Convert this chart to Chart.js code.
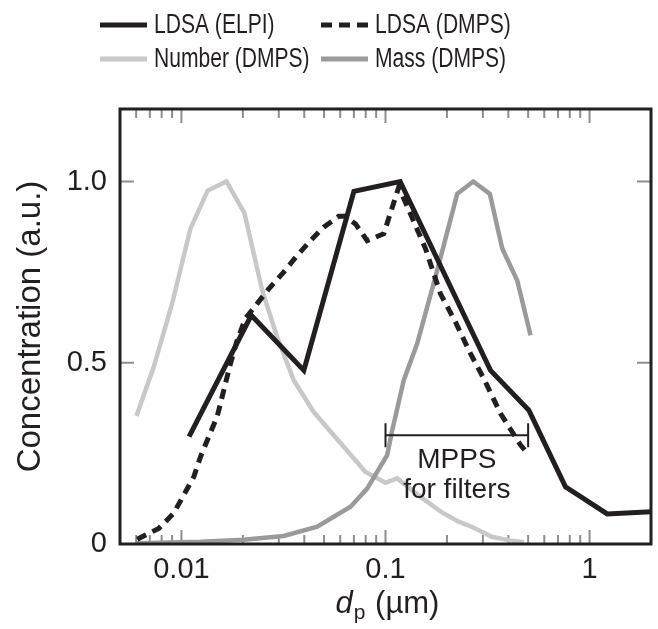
<!DOCTYPE html>
<html>
<head>
<meta charset="utf-8">
<script src="https://cdn.jsdelivr.net/npm/chart.js@4.4.0/dist/chart.umd.min.js"></script>
<style>
  html, body { margin: 0; padding: 0; background: #fff; }
</style>
</head>
<body>
<canvas id="myChart" width="658" height="629"></canvas>
<script>
// particle diameters in µm, concentrations normalised to max = 1
const elpiDiam = [0.0109, 0.022, 0.0398, 0.070, 0.118, 0.327, 0.504, 0.762, 1.22, 2.0];
const elpiLdsa = [0.296, 0.631, 0.479, 0.973, 1.0, 0.479, 0.369, 0.158, 0.083, 0.089];

const dmpsLdsaDiam = [0.00607, 0.00774, 0.00917, 0.01026, 0.01149, 0.01239, 0.01361, 0.01496, 0.01612, 0.01739,
  0.01875, 0.02059, 0.0235, 0.0268, 0.0317, 0.0369, 0.0429, 0.0498, 0.059, 0.0637, 0.0713, 0.0813, 0.0981,
  0.1162, 0.157, 0.186, 0.2204, 0.261, 0.3033, 0.3663, 0.4179, 0.459, 0.491];
const dmpsLdsa = [0.013, 0.043, 0.085, 0.135, 0.185, 0.24, 0.296, 0.351, 0.424, 0.498,
  0.562, 0.622, 0.663, 0.704, 0.75, 0.796, 0.837, 0.874, 0.904, 0.904, 0.883, 0.837, 0.856,
  0.985, 0.815, 0.69, 0.612, 0.525, 0.456, 0.36, 0.309, 0.273, 0.254];

const numberDiam = [0.00602, 0.00731, 0.0090, 0.01107, 0.01345, 0.01662, 0.02036, 0.02486, 0.02944, 0.0355,
  0.0445, 0.0798, 0.1, 0.1141, 0.1484, 0.186, 0.2254, 0.2709, 0.3319, 0.4053, 0.4764];
const numberConc = [0.353, 0.488, 0.663, 0.87, 0.975, 1.0, 0.913, 0.70, 0.571, 0.452,
  0.364, 0.199, 0.169, 0.181, 0.13, 0.09, 0.063, 0.045, 0.02, 0.01, 0.005];

const massDiam = [0.006, 0.0124, 0.0201, 0.0317, 0.0463, 0.0674, 0.0813, 0.1019, 0.1079, 0.1229,
  0.143, 0.1792, 0.2246, 0.2692, 0.3245, 0.3733, 0.4421, 0.5138];
const massConc = [0.002, 0.006, 0.012, 0.022, 0.048, 0.103, 0.153, 0.245, 0.314, 0.452,
  0.553, 0.755, 0.966, 1.0, 0.966, 0.815, 0.727, 0.576];

const xMajor = [0.01, 0.1, 1];
const xMinor = [0.005, 0.006, 0.007, 0.008, 0.009, 0.02, 0.03, 0.04, 0.05, 0.06, 0.07, 0.08, 0.09,
  0.2, 0.3, 0.4, 0.5, 0.6, 0.7, 0.8, 0.9];
const yMajor = [0, 0.5, 1.0];

const mppsRange = [0.1, 0.5];
const mppsLevel = 0.3;

const INK = '#231f20';
const FONT = '"Liberation Sans", Arial, sans-serif';

const pts = (xs, ys) => xs.map((x, i) => ({ x: x, y: ys[i] }));

const data = {
  datasets: [
    { label: 'LDSA (ELPI)', data: pts(elpiDiam, elpiLdsa), borderColor: INK, borderWidth: 5, order: 0 },
    { label: 'LDSA (DMPS)', data: pts(dmpsLdsaDiam, dmpsLdsa), borderColor: INK, borderWidth: 5,
      borderDash: [10, 7], order: 1 },
    { label: 'Number (DMPS)', data: pts(numberDiam, numberConc), borderColor: '#c8c8c8', borderWidth: 4.5, order: 3 },
    { label: 'Mass (DMPS)', data: pts(massDiam, massConc), borderColor: '#9a9a9c', borderWidth: 4.5, order: 2 },
  ],
};

// inward ticks, frame, legend, axis titles and the MPPS bracket
const decorations = {
  id: 'decorations',
  beforeDatasetsDraw(chart) {
    const { ctx, chartArea: a, scales: { x, y } } = chart;
    ctx.save();
    ctx.strokeStyle = '#8e8e8e';
    ctx.lineWidth = 2;
    ctx.beginPath();
    xMajor.concat(xMinor).forEach((v) => {
      const px = x.getPixelForValue(v);
      const len = xMajor.includes(v) ? 14 : 9;
      ctx.moveTo(px, a.bottom); ctx.lineTo(px, a.bottom - len);
      ctx.moveTo(px, a.top); ctx.lineTo(px, a.top + len);
    });
    yMajor.forEach((v) => {
      const py = y.getPixelForValue(v);
      ctx.moveTo(a.left, py); ctx.lineTo(a.left + 14, py);
      ctx.moveTo(a.right, py); ctx.lineTo(a.right - 14, py);
    });
    ctx.stroke();
    ctx.restore();
  },
  afterDatasetsDraw(chart) {
    const { ctx, chartArea: a, scales: { x, y } } = chart;
    ctx.save();
    // MPPS bracket
    const x0 = x.getPixelForValue(mppsRange[0]);
    const x1 = x.getPixelForValue(mppsRange[1]);
    const yb = y.getPixelForValue(mppsLevel);
    ctx.strokeStyle = INK;
    ctx.lineWidth = 2;
    ctx.beginPath();
    ctx.moveTo(x0, yb); ctx.lineTo(x1, yb);
    ctx.moveTo(x0, yb - 12); ctx.lineTo(x0, yb + 12);
    ctx.moveTo(x1, yb - 12); ctx.lineTo(x1, yb + 12);
    ctx.stroke();
    ctx.fillStyle = INK;
    ctx.font = '28px ' + FONT;
    ctx.textAlign = 'center';
    ctx.textBaseline = 'alphabetic';
    ctx.fillText('MPPS', (x0 + x1) / 2, yb + 33);
    ctx.fillText('for filters', (x0 + x1) / 2, yb + 63);

    // frame
    ctx.lineWidth = 3;
    ctx.strokeRect(a.left, a.top, a.right - a.left, a.bottom - a.top);

    // legend, two columns, condensed lettering
    const slots = [[100, 33], [321, 33], [100, 67], [321, 67]];
    ctx.textAlign = 'left';
    ctx.font = '27px ' + FONT;
    chart.data.datasets.forEach((ds, i) => {
      const [lx, ly] = slots[i];
      ctx.beginPath();
      ctx.strokeStyle = ds.borderColor;
      ctx.lineWidth = 5;
      ctx.setLineDash(ds.borderDash ? [11, 7] : []);
      ctx.moveTo(lx, ly - 8); ctx.lineTo(lx + 47, ly - 8);
      ctx.stroke();
      ctx.setLineDash([]);
      ctx.fillStyle = INK;
      ctx.save();
      ctx.translate(lx + 54, ly);
      ctx.scale(0.78, 1);
      ctx.fillText(ds.label, 0, 0);
      ctx.restore();
    });

    // y title
    ctx.save();
    ctx.translate(40, (a.top + a.bottom) / 2);
    ctx.rotate(-Math.PI / 2);
    ctx.textAlign = 'center';
    ctx.font = '33px ' + FONT;
    ctx.fillText('Concentration (a.u.)', 0, 0);
    ctx.restore();

    // x title: d_p (µm)
    ctx.textAlign = 'left';
    ctx.font = 'italic 31px ' + FONT;
    const wd = ctx.measureText('d').width;
    ctx.font = '21px ' + FONT;
    const wp = ctx.measureText('p').width;
    ctx.font = '31px ' + FONT;
    const wr = ctx.measureText(' (µm)').width;
    let tx = (a.left + a.right) / 2 + 2 - (wd + wp + 2 + wr) / 2;
    const ty = 613;
    ctx.font = 'italic 31px ' + FONT;
    ctx.fillText('d', tx, ty); tx += wd + 1;
    ctx.font = '21px ' + FONT;
    ctx.fillText('p', tx, ty + 6); tx += wp + 1;
    ctx.font = '31px ' + FONT;
    ctx.fillText(' (µm)', tx, ty);
    ctx.restore();
  },
};

const config = {
  type: 'line',
  data: data,
  options: {
    responsive: false,
    animation: false,
    devicePixelRatio: 1,
    layout: { padding: { top: 109, right: 7, left: 0, bottom: 0 } },
    elements: { line: { tension: 0, borderJoinStyle: 'miter' }, point: { radius: 0 } },
    plugins: { legend: { display: false }, tooltip: { enabled: false } },
    scales: {
      x: {
        type: 'logarithmic',
        min: 0.005,
        max: 2,
        afterBuildTicks: (s) => { s.ticks = xMajor.map((v) => ({ value: v })); },
        afterFit: (s) => { s.height = 85; },
        grid: { display: false, drawTicks: false },
        border: { display: false },
        ticks: {
          autoSkip: false, maxRotation: 0, padding: 9, color: INK,
          font: { size: 29, family: FONT },
          callback: (v) => String(v),
        },
      },
      y: {
        min: 0,
        max: 1.2,
        afterBuildTicks: (s) => { s.ticks = yMajor.map((v) => ({ value: v })); },
        afterFit: (s) => { s.width = 120; },
        grid: { display: false, drawTicks: false },
        border: { display: false },
        ticks: {
          padding: 13, color: INK,
          font: { size: 29, family: FONT },
          callback: (v) => (v === 0 ? '0' : v.toFixed(1)),
        },
      },
    },
  },
  plugins: [decorations],
};

const myChart = new Chart(document.getElementById('myChart'), config);
</script>
</body>
</html>
